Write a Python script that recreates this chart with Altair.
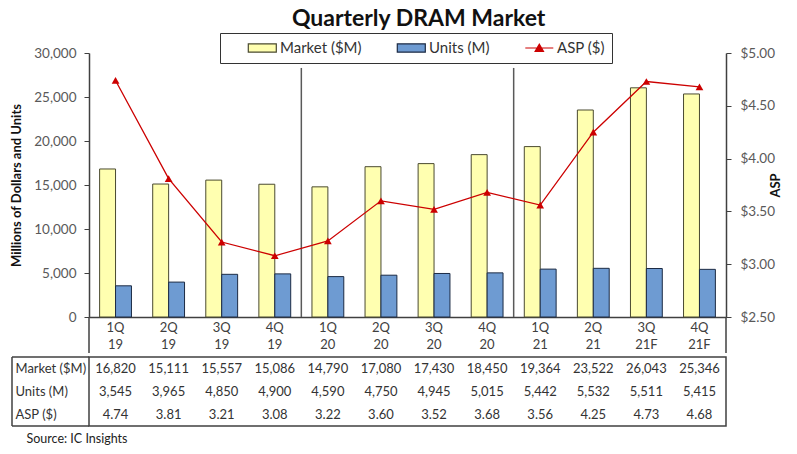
import altair as alt
import pandas as pd

# ---------------- data ----------------
quarters = ["1Q 19", "2Q 19", "3Q 19", "4Q 19", "1Q 20", "2Q 20", "3Q 20", "4Q 20",
            "1Q 21", "2Q 21", "3Q 21F", "4Q 21F"]
market = [16820, 15111, 15557, 15086, 14790, 17080, 17430, 18450, 19364, 23522, 26043, 25346]
units = [3545, 3965, 4850, 4900, 4590, 4750, 4945, 5015, 5442, 5532, 5511, 5415]
asp = [4.74, 3.81, 3.21, 3.08, 3.22, 3.60, 3.52, 3.68, 3.56, 4.25, 4.73, 4.68]
series_names = ["Market ($M)", "Units (M)", "ASP ($)"]
left_ticks = [0, 5000, 10000, 15000, 20000, 25000, 30000]
right_ticks = [2.5, 3.0, 3.5, 4.0, 4.5, 5.0]
year_breaks = ["4Q 19", "4Q 20"]
title_text = "Quarterly DRAM Market"
source_text = "Source:  IC Insights"

# ---------------- styling ----------------
FONT = "Lato"
W, H = 637, 264
LABEL_H = 36
ROW_H = 23
TABLE_H = 3 * ROW_H
AXIS_COLOR = "#404040"
RED = "#CC0000"
fills = ["#FFFFB0", "#6E9BD2", RED]
strokes = ["#4A4A30", "#1C2B44", RED]

RECT_PATH = "M1.9,-0.6L5.9,-0.6L5.9,0.6L1.9,0.6Z"
TRI_PATH = "M1.9,0L5.9,0M3.3,0.5L4.5,0.5L3.9,-0.55Z"
legend_shapes = [RECT_PATH, RECT_PATH, TRI_PATH]

# ---------------- tables ----------------
bars_df = pd.DataFrame({
    "quarter": quarters * 2,
    "series": [series_names[0]] * len(quarters) + [series_names[1]] * len(quarters),
    "value": market + units,
})
asp_df = pd.DataFrame({"quarter": quarters, "asp": asp})
breaks_df = pd.DataFrame({"quarter": year_breaks})
legend_df = pd.DataFrame({"series": series_names})
table_df = pd.DataFrame({
    "quarter": quarters * 3,
    "row": [series_names[0]] * 12 + [series_names[1]] * 12 + [series_names[2]] * 12,
    "text": [f"{v:,}" for v in market] + [f"{v:,}" for v in units] + [f"{v:.2f}" for v in asp],
})
one = pd.DataFrame({"k": [0]})

x_scale = alt.Scale(domain=quarters, paddingInner=0, paddingOuter=0)
offset_scale = alt.Scale(domain=series_names[:2], paddingInner=0, paddingOuter=0.667)
color_scale = alt.Scale(domain=series_names, range=fills)
stroke_scale = alt.Scale(domain=series_names, range=strokes)
shape_scale = alt.Scale(domain=series_names, range=legend_shapes)

x_axis = alt.Axis(
    title=None, labelAngle=0, labelExpr="split(datum.label, ' ')",
    ticks=False, domainColor=AXIS_COLOR, domainWidth=1.5,
    labelFontSize=13, labelColor="#404040", labelPadding=4, labelLineHeight=17,
)

legend_props = dict(
    title=None, orient="none", direction="horizontal",
    legendX=131, legendY=-20,
    strokeColor="#333333", fillColor="white", padding=7,
    columnPadding=14, symbolSize=196, labelOffset=37, symbolOpacity=1,
    labelFontSize=15, labelColor="#333333", symbolStrokeWidth=1.2,
)

bars = alt.Chart(bars_df).mark_bar(strokeWidth=1).encode(
    x=alt.X("quarter:N", sort=quarters, scale=x_scale, axis=x_axis),
    xOffset=alt.XOffset("series:N", sort=series_names[:2], scale=offset_scale),
    y=alt.Y("value:Q", scale=alt.Scale(domain=[0, 30000], nice=False),
            axis=alt.Axis(title="Millions of Dollars and Units", values=left_ticks, format=",.0f",
                          grid=False, domainColor=AXIS_COLOR, domainWidth=1.5,
                          tickColor=AXIS_COLOR, tickSize=5, labelPadding=8,
                          labelFontSize=13.5, labelColor="#595959",
                          titleFontSize=13, titleFontWeight="bold", titleColor="#111111",
                          titlePadding=10)),
    color=alt.Color("series:N", scale=color_scale, legend=alt.Legend(**legend_props)),
    stroke=alt.Stroke("series:N", scale=stroke_scale, legend=alt.Legend(**legend_props)),
)

# invisible layer that carries the line+triangle shape into the combined legend
legend_layer = alt.Chart(legend_df).mark_point(filled=True, opacity=0).encode(
    color=alt.Color("series:N", scale=color_scale, legend=alt.Legend(**legend_props)),
    stroke=alt.Stroke("series:N", scale=stroke_scale, legend=alt.Legend(**legend_props)),
    shape=alt.Shape("series:N", scale=shape_scale, legend=alt.Legend(**legend_props)),
)

seps = alt.Chart(breaks_df).mark_rule(color="#595959", strokeWidth=1.5).encode(
    x=alt.X("quarter:N", sort=quarters, scale=x_scale, bandPosition=1),
    y=alt.datum(28300),
    y2=alt.datum(0),
)

edge_l = alt.Chart(one).mark_rule(color=AXIS_COLOR, strokeWidth=1.5).encode(
    x=alt.value(0), y=alt.value(H), y2=alt.value(H + LABEL_H))
edge_r = alt.Chart(one).mark_rule(color=AXIS_COLOR, strokeWidth=1.5).encode(
    x=alt.value(W), y=alt.value(H), y2=alt.value(H + LABEL_H))

left = alt.layer(bars, seps, edge_l, edge_r, legend_layer)

line = alt.Chart(asp_df).mark_line(color=RED, strokeWidth=1.3).encode(
    x=alt.X("quarter:N", sort=quarters, scale=x_scale, axis=x_axis),
    y=alt.Y("asp:Q", scale=alt.Scale(domain=[2.5, 5.0], nice=False, zero=False),
            axis=alt.Axis(orient="right", title="ASP", values=right_ticks, format="$.2f",
                          grid=False, domainColor=AXIS_COLOR, domainWidth=1.5,
                          tickColor=AXIS_COLOR, tickSize=5, labelPadding=9,
                          labelFontSize=13.5, labelColor="#595959",
                          titleFontSize=13, titleFontWeight="bold", titleColor="#111111",
                          titleAngle=270, titlePadding=8)),
)
pts = line.mark_point(shape="triangle-up", filled=True, size=60, color=RED, opacity=1)
right = alt.layer(line, pts)

main = alt.layer(left, right).resolve_scale(y="independent").properties(
    width=W, height=H, view=alt.ViewBackground(stroke="transparent"))

# ---------------- data table ----------------
cells = alt.Chart(table_df).mark_text(fontSize=13, color="#333333").encode(
    x=alt.X("quarter:N", sort=quarters, scale=x_scale,
            axis=alt.Axis(title=source_text, labels=False, ticks=False, domain=False,
                          titleX=-63, titleY=16, titleAlign="left", titleBaseline="alphabetic",
                          titleFontWeight="normal", titleFontSize=12.5, titleColor="#222222")),
    y=alt.Y("row:N", sort=series_names,
            scale=alt.Scale(domain=series_names, paddingInner=0, paddingOuter=0),
            axis=alt.Axis(title=None, labelAlign="left", labelPadding=74, ticks=False, tickSize=0,
                          domain=False, labelFontSize=13, labelColor="#333333")),
    text="text:N",
)
frame_top = alt.Chart(one).mark_rule(color=AXIS_COLOR, strokeWidth=1.5).encode(
    x=alt.value(-77), x2=alt.value(0), y=alt.value(0))
frame_bot = alt.Chart(one).mark_rule(color=AXIS_COLOR, strokeWidth=1.5).encode(
    x=alt.value(-77), x2=alt.value(0), y=alt.value(TABLE_H))
frame_left = alt.Chart(one).mark_rule(color=AXIS_COLOR, strokeWidth=1.5).encode(
    x=alt.value(-77), y=alt.value(0), y2=alt.value(TABLE_H))

table = alt.layer(cells, frame_top, frame_bot, frame_left).properties(
    width=W, height=TABLE_H, view=alt.ViewBackground(stroke=AXIS_COLOR, strokeWidth=1.5))

chart = alt.vconcat(main, table, spacing=0).resolve_scale(
    color="independent", stroke="independent", shape="independent"
).properties(
    title=alt.TitleParams(title_text, fontSize=23, fontWeight="bold", color="#111111",
                          anchor="middle", offset=1, dx=22),
    padding={"top": 0, "bottom": 0, "left": 2, "right": 0},
).configure(font=FONT).configure_axis(labelFont=FONT, titleFont=FONT).configure_legend(
    labelFont=FONT)

chart.save("out.html", embed_options={"renderer": "svg", "actions": False})
